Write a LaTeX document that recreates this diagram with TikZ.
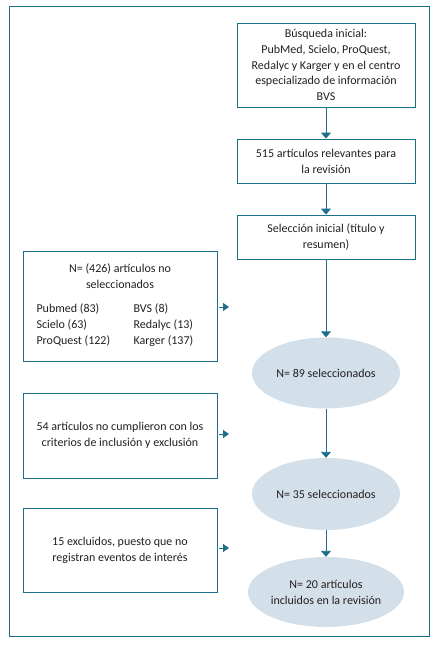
\documentclass[tikz,border=0pt]{standalone}
\usepackage{fontspec}
\setmainfont{Carlito}
\usetikzlibrary{arrows.meta,shapes.geometric}
\definecolor{teal1}{HTML}{1B6F8A}
\definecolor{efill}{HTML}{D3E0EA}
\definecolor{txt}{HTML}{231F20}
\begin{document}
\begin{tikzpicture}[x=1pt,y=-1pt,
  every node/.style={font=\fontsize{12}{15.8}\selectfont, text=txt},
  box/.style={draw=teal1, line width=0.9pt, minimum width=178pt, align=center, inner sep=0pt},
  lbox/.style={draw=teal1, line width=0.9pt, minimum width=194pt, align=center, inner sep=0pt},
  oval/.style={ellipse, fill=efill, minimum width=148pt, align=center, inner sep=0pt},
  arr/.style={draw=teal1, line width=0.9pt, -{Triangle[length=6pt,width=10pt]}},
  stub/.style={draw=teal1, line width=0.9pt, -{Triangle[length=6pt,width=8pt]}, shorten <=2pt}
]
\useasboundingbox (0,0) rectangle (439,669);
\draw[teal1, line width=0.9pt] (9,6) rectangle (429,636);
\node[box, minimum height=84pt] (b1) at (326,65) {Búsqueda inicial:\\PubMed, Scielo, ProQuest,\\Redalyc y Karger y en el centro\\especializado de información\\BVS};
\node[box, minimum height=44pt] (b2) at (326,161) {515 artículos relevantes para\\la revisión};
\node[box, minimum height=44pt] (b3) at (326,237) {Selección inicial (título y\\resumen)};
\node[lbox, minimum height=110pt] (l1) at (120,306) {};
\node (l1t) at (120,276) [align=center] {N= (426) artículos no\\seleccionados};
\node (l1a) at (33,325) [anchor=west, align=left] {Pubmed (83)\\Scielo (63)\\ProQuest (122)};
\node (l1b) at (130,325) [anchor=west, align=left] {BVS (8)\\Redalyc (13)\\Karger (137)};
\node[lbox, minimum height=85pt] (l2) at (120,435.5) {54 artículos no cumplieron con los\\criterios de inclusión y exclusión};
\node[lbox, minimum height=84pt] (l3) at (120,550) {15 excluidos, puesto que no\\registran eventos de interés};
\node[oval, minimum height=71pt] (e1) at (326,373) {N= 89 seleccionados};
\node[oval, minimum height=72pt] (e2) at (326,494) {N= 35 seleccionados};
\node[oval, minimum height=70pt] (e3) at (326,592) {N= 20 artículos\\incluidos en la revisión};
\coordinate (s1) at (229,307);
\coordinate (s2) at (229,434);
\coordinate (s3) at (229,548);
\draw[arr] (b1) -- (b2);
\draw[arr] (b2) -- (b3);
\draw[arr] (b3) -- (e1);
\draw[arr] (e1) -- (e2);
\draw[arr] (e2) -- (e3);
\draw[stub] (l1.east |- s1) -- (s1);
\draw[stub] (l2.east |- s2) -- (s2);
\draw[stub] (l3.east |- s3) -- (s3);
\end{tikzpicture}
\end{document}
